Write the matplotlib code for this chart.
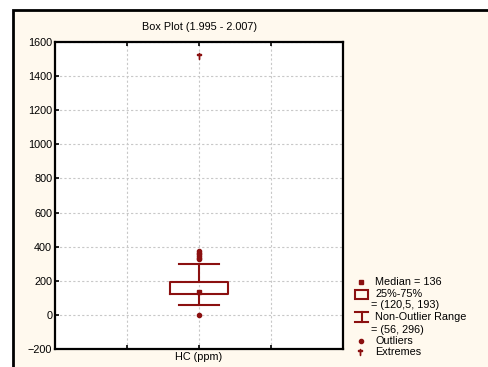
import matplotlib
matplotlib.use("Agg")
import matplotlib.pyplot as plt
from matplotlib.patches import Rectangle
from matplotlib.lines import Line2D

# box plot statistics for HC (ppm)
variable = "HC (ppm)"
median = 136
q1, q3 = 120.5, 193
whisker_low, whisker_high = 56, 296
outliers = [2, 325, 335, 345, 355, 365, 375]
extremes = [1520]

y_ticks = [-200, 0, 200, 400, 600, 800, 1000, 1200, 1400, 1600]

RED = "#8b1010"
BG = "#fff9ee"
W, H = 488, 367

plt.rcParams['font.family'] = ['Liberation Sans', 'DejaVu Sans']
plt.rcParams['font.size'] = 7.8

fig = plt.figure(figsize=(W / 100, H / 100), dpi=100)
fig.patch.set_facecolor("white")


def fx(px):
    return px / W


def fy(py):
    return 1 - py / H


# cream panel with black frame
fig.patches.append(Rectangle((fx(13), fy(380)), fx(500) - fx(13), fy(10) - fy(380),
                             transform=fig.transFigure, facecolor=BG,
                             edgecolor="black", linewidth=2, zorder=-5))

ax = fig.add_axes([fx(55), fy(349), fx(343) - fx(55), fy(42) - fy(349)])
ax.set_zorder(1)
ax.set_facecolor("white")

stats = [dict(med=median, q1=q1, q3=q3, whislo=whisker_low, whishi=whisker_high,
              fliers=[], label=variable)]
ax.bxp(stats, positions=[2], widths=0.8, showfliers=False,
       boxprops=dict(color=RED, linewidth=1.5),
       whiskerprops=dict(color=RED, linewidth=1.5),
       capprops=dict(color=RED, linewidth=1.5),
       medianprops=dict(visible=False), capwidths=0.56, zorder=3)
ax.plot([2], [median], marker="s", color=RED, markersize=3, linestyle="none", zorder=4)
ax.plot([2] * len(outliers), outliers, marker="o", color=RED, markersize=3,
        linestyle="none", zorder=4)
ax.plot([2] * len(extremes), extremes, marker=r"$\dagger$", color=RED, markersize=5,
        linestyle="none", zorder=4)

ax.set_xlim(0, 4)
ax.set_ylim(-200, 1600)
ax.set_yticks(y_ticks)
ax.set_xticks([1, 2, 3])
ax.set_xticklabels(["", variable, ""])
ax.grid(True, color="#c8c8c8", linestyle=(0, (2, 2)), linewidth=0.8)
ax.set_axisbelow(True)
ax.tick_params(direction="in", length=3, width=1.2, top=True, bottom=True,
               labelsize=7.8, pad=2, colors="black")
for s in ax.spines.values():
    s.set_linewidth(1.6)

fig.text(fx(199), fy(27), "Box Plot (1.995 - 2.007)", ha="center", va="center")

# legend drawn by hand in pixel positions
tx = fx(375)
fig.add_artist(Line2D([fx(361)], [fy(282)], marker="s", color=RED, markersize=3,
                      transform=fig.transFigure))
fig.text(tx, fy(282), "Median = %d" % median, va="center")
fig.patches.append(Rectangle((fx(355), fy(299)), fx(368) - fx(355), fy(290) - fy(299),
                             transform=fig.transFigure, facecolor="none",
                             edgecolor=RED, linewidth=1.5))
fig.text(tx, fy(294), "25%-75%", va="center")
fig.text(fx(371), fy(305), "= (%s, %d)" % (str(q1).replace(".", ","), q3), va="center")
for seg in ([355, 368, 312, 312], [355, 368, 322, 322], [361.5, 361.5, 312, 322]):
    fig.add_artist(Line2D([fx(seg[0]), fx(seg[1])], [fy(seg[2]), fy(seg[3])],
                          color=RED, linewidth=1.5, transform=fig.transFigure))
fig.text(tx, fy(317), "Non-Outlier Range", va="center")
fig.text(fx(371), fy(330), "= (%d, %d)" % (whisker_low, whisker_high), va="center")
fig.add_artist(Line2D([fx(361)], [fy(341)], marker="o", color=RED, markersize=3,
                      transform=fig.transFigure))
fig.text(tx, fy(341), "Outliers", va="center")
fig.add_artist(Line2D([fx(360)], [fy(352)], marker=r"$\dagger$", color=RED, markersize=5,
                      transform=fig.transFigure))
fig.text(tx, fy(352), "Extremes", va="center")

fig.savefig("out.png", dpi=100)
